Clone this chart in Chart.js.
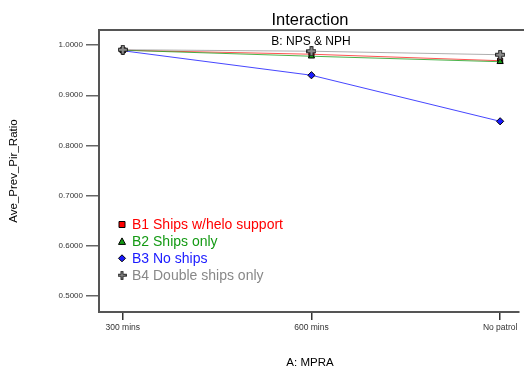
<!DOCTYPE html>
<html>
<head>
<meta charset="utf-8">
<script src="https://cdn.jsdelivr.net/npm/chart.js@4/dist/chart.umd.min.js"></script>
<style>
  html, body { margin: 0; padding: 0; background: #fff; }
  #wrap { width: 524px; height: 372px; }
</style>
</head>
<body>
<div id="wrap"><canvas id="chart" width="524" height="372"></canvas></div>
<script>
// data
const categories = ["300 mins", "600 mins", "No patrol"];
const seriesLabels = ["B1 Ships w/helo support", "B2 Ships only", "B3 No ships", "B4 Double ships only"];
const b1Values = [0.990, 0.982, 0.969];
const b2Values = [0.990, 0.978, 0.967];
const b3Values = [0.989, 0.940, 0.848];
const b4Values = [0.991, 0.988, 0.981];
const yTicks = [0.5, 0.6, 0.7, 0.8, 0.9, 1.0];

const FONT = "'Liberation Sans', Arial, sans-serif";
const colors = ["#ff0000", "#149a14", "#1a1aff", "#888888"];
const lineColors = ["rgba(255,40,40,0.8)", "rgba(30,160,30,0.8)", "rgba(50,50,255,0.9)", "rgba(140,140,140,0.7)"];

// filled plus marker (gray with black outline)
function plusMarker(size) {
    const c = document.createElement("canvas");
    c.width = size; c.height = size;
    const g = c.getContext("2d");
    const a = Math.round(size * 0.34) + 0.5, b = Math.round(size * 0.66) - 0.5, e = size - 0.5, s = 0.5;
    g.beginPath();
    g.moveTo(a, s); g.lineTo(b, s); g.lineTo(b, a); g.lineTo(e, a); g.lineTo(e, b);
    g.lineTo(b, b); g.lineTo(b, e); g.lineTo(a, e); g.lineTo(a, b); g.lineTo(s, b);
    g.lineTo(s, a); g.lineTo(a, a); g.closePath();
    g.fillStyle = "#8a8a8a";
    g.fill();
    g.strokeStyle = "#222";
    g.lineWidth = 1;
    g.stroke();
    return c;
}
const plusImg = plusMarker(10);
const plusSmall = plusMarker(9);

const pointStyles = ["rect", "triangle", "rectRot", plusImg];
const allValues = [b1Values, b2Values, b3Values, b4Values];
const drawOrder = [2, 1, 3, 0];

const datasets = allValues.map((vals, i) => ({
    label: seriesLabels[i],
    data: vals.map((v, k) => ({ x: k, y: v })),
    borderColor: lineColors[i],
    borderWidth: 1,
    backgroundColor: colors[i],
    pointBackgroundColor: colors[i],
    pointBorderColor: "#000",
    pointBorderWidth: 1,
    pointStyle: pointStyles[i],
    pointRadius: 3.6,
    order: drawOrder[i],
    tension: 0
}));

// titles, top border and in-plot legend
const decorPlugin = {
    id: "decor",
    afterDraw(chart) {
        const ctx = chart.ctx;
        const area = chart.chartArea;
        const cx = (area.left + area.right) / 2;
        ctx.save();
        // top border
        ctx.strokeStyle = "#555";
        ctx.lineWidth = 2;
        ctx.beginPath();
        ctx.moveTo(area.left - 1, area.top);
        ctx.lineTo(chart.width, area.top);
        ctx.stroke();

        ctx.textAlign = "center";
        ctx.textBaseline = "middle";
        ctx.fillStyle = "#000";
        ctx.font = "16.5px " + FONT;
        ctx.fillText("Interaction", cx + 1, 20);
        ctx.font = "12px " + FONT;
        ctx.fillText("B: NPS & NPH", cx + 2, 42);

        ctx.font = "11.5px " + FONT;
        ctx.fillText("A: MPRA", cx + 1, 363);

        ctx.save();
        ctx.translate(14, (area.top + area.bottom) / 2);
        ctx.rotate(-Math.PI / 2);
        ctx.fillText("Ave_Prev_Pir_Ratio", 0, 0);
        ctx.restore();

        // legend
        ctx.textAlign = "left";
        ctx.font = "14px " + FONT;
        const lx = 122, ly = 224.5, step = 16.9;
        seriesLabels.forEach((lab, i) => {
            const y = ly + i * step;
            ctx.fillStyle = colors[i];
            ctx.strokeStyle = "#000";
            ctx.lineWidth = 1;
            ctx.beginPath();
            if (i === 0) {
                ctx.rect(lx - 3, y - 3, 6, 6);
            } else if (i === 1) {
                ctx.moveTo(lx, y - 3.5); ctx.lineTo(lx + 3.5, y + 3); ctx.lineTo(lx - 3.5, y + 3); ctx.closePath();
            } else if (i === 2) {
                ctx.moveTo(lx, y - 3.5); ctx.lineTo(lx + 3.5, y); ctx.lineTo(lx, y + 3.5); ctx.lineTo(lx - 3.5, y); ctx.closePath();
            }
            if (i < 3) {
                ctx.fill();
                ctx.stroke();
            } else {
                ctx.drawImage(plusSmall, lx - 4.5, y - 4.5);
            }
            ctx.fillStyle = colors[i];
            ctx.fillText(lab, 132, y + 0.5);
        });
        ctx.restore();
    }
};

new Chart(document.getElementById("chart"), {
    type: "line",
    data: { datasets: datasets },
    options: {
        responsive: false,
        animation: false,
        layout: { padding: { top: 30, left: 0, right: 0, bottom: 0 } },
        plugins: {
            legend: { display: false },
            title: { display: false },
            tooltip: { enabled: false }
        },
        scales: {
            x: {
                type: "linear",
                min: -0.126,
                max: 2.1,
                afterFit: (scale) => { scale.height = 60; },
                afterBuildTicks: (scale) => { scale.ticks = categories.map((c, i) => ({ value: i })); },
                ticks: {
                    callback: (v) => categories[v],
                    color: "#333",
                    font: { family: FONT, size: 8.5 },
                    padding: 3,
                    maxRotation: 0
                },
                grid: { drawOnChartArea: false, tickLength: 8, color: "#333", lineWidth: 1.5 },
                border: { display: true, color: "#555", width: 2 }
            },
            y: {
                type: "linear",
                min: 0.467,
                max: 1.0304,
                afterFit: (scale) => { scale.width = 99; },
                afterBuildTicks: (scale) => { scale.ticks = yTicks.map(v => ({ value: v })); },
                ticks: {
                    callback: (v) => Number(v).toFixed(4),
                    color: "#333",
                    font: { family: FONT, size: 8 },
                    padding: 3
                },
                grid: { drawOnChartArea: false, tickLength: 13, color: "#666", lineWidth: 1.5 },
                border: { display: true, color: "#555", width: 2 }
            }
        }
    },
    plugins: [decorPlugin]
});
</script>
</body>
</html>
